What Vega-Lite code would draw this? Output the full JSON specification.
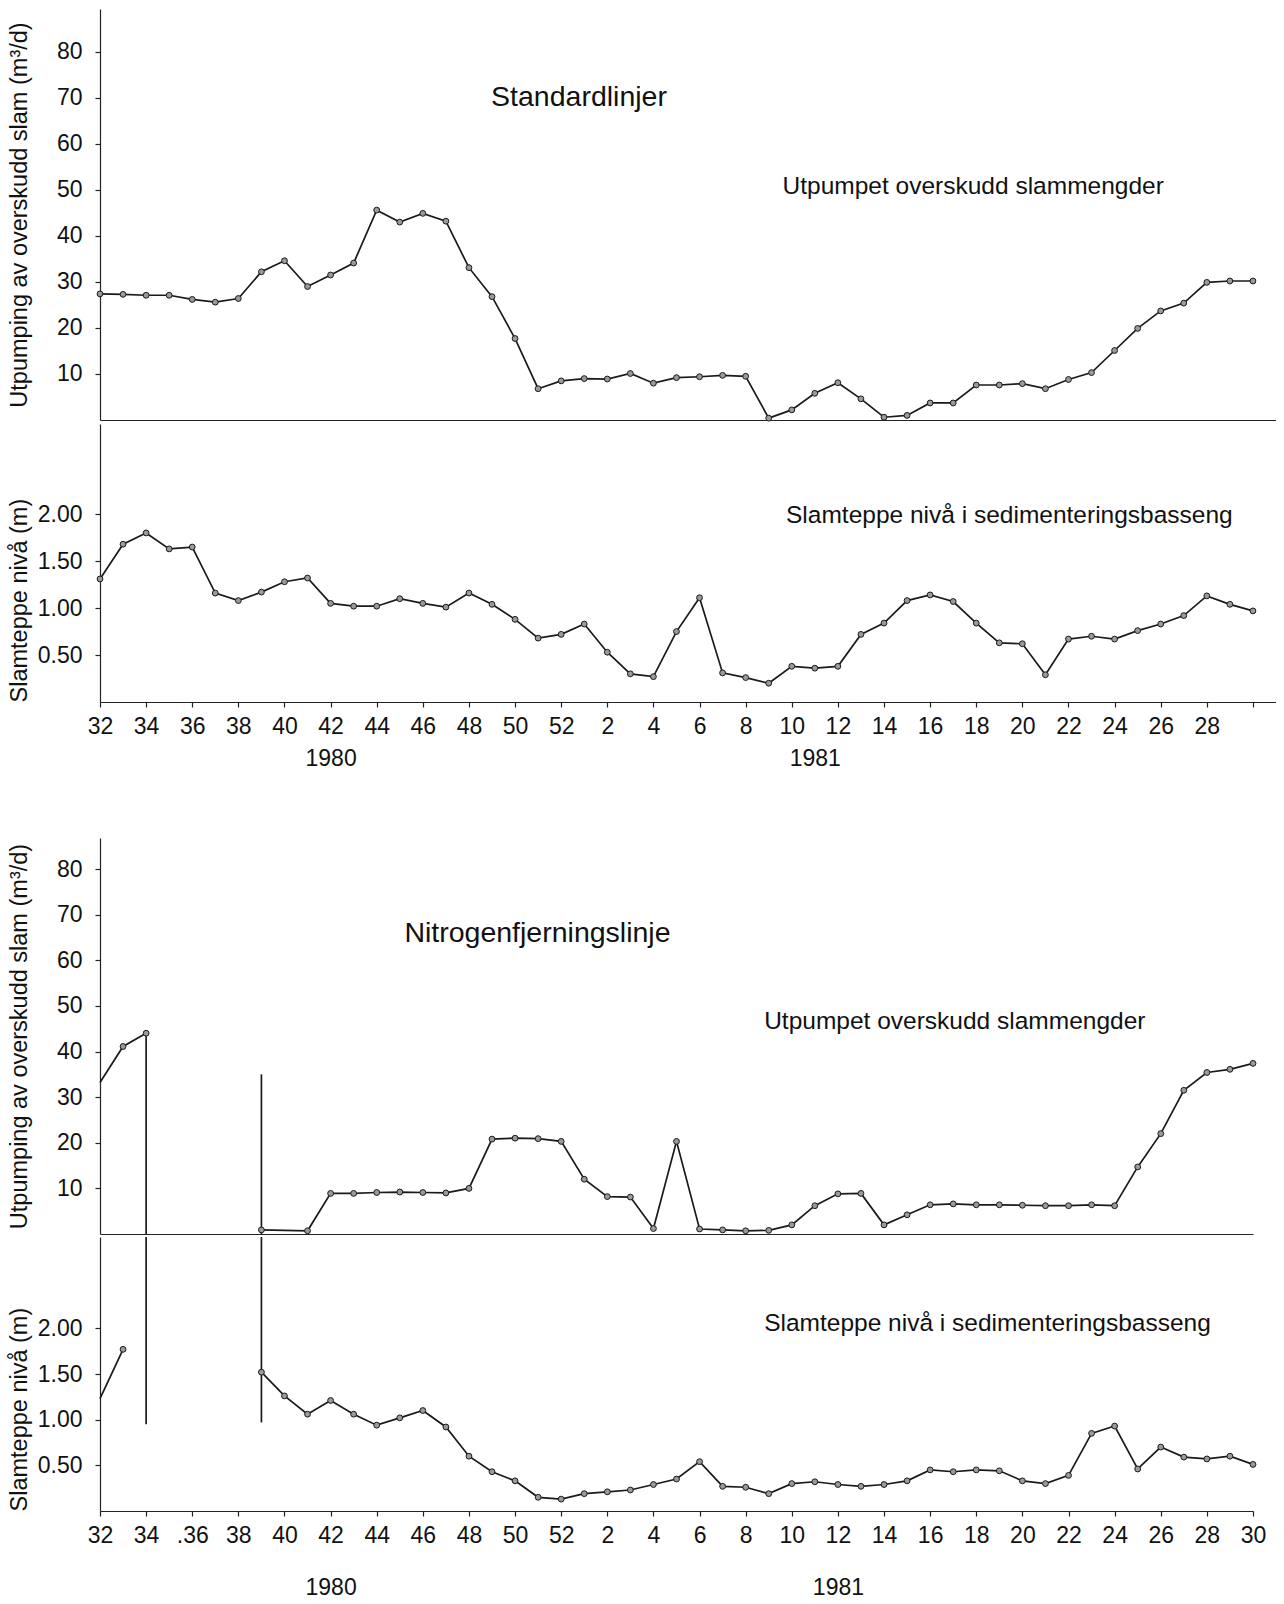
{
  "$schema": "https://vega.github.io/schema/vega-lite/v6.json",
  "background": "white",
  "padding": {"top": 9, "left": 7, "right": 0, "bottom": 0},
  "config": {
    "view": {"stroke": null},
    "font": "Liberation Sans",
    "axis": {
      "domainColor": "#222", "tickColor": "#222", "labelColor": "#111", "titleColor": "#111",
      "labelFont": "Liberation Sans", "titleFont": "Liberation Sans",
      "labelFontSize": 23, "titleFontSize": 23.5, "titleFontWeight": "normal",
      "grid": false, "tickSize": 5, "domainWidth": 1.2, "tickWidth": 1.2, "labelPadding": 13
    }
  },
  "datasets": {
    "top": [
      {"idx":0,"slam":27.4,"niva":1.31},{"idx":1,"slam":27.3,"niva":1.68},{"idx":2,"slam":27.1,"niva":1.80},
      {"idx":3,"slam":27.1,"niva":1.63},{"idx":4,"slam":26.2,"niva":1.65},{"idx":5,"slam":25.6,"niva":1.16},
      {"idx":6,"slam":26.4,"niva":1.08},{"idx":7,"slam":32.2,"niva":1.17},{"idx":8,"slam":34.6,"niva":1.28},
      {"idx":9,"slam":29.0,"niva":1.32},{"idx":10,"slam":31.5,"niva":1.05},{"idx":11,"slam":34.1,"niva":1.02},
      {"idx":12,"slam":45.6,"niva":1.02},{"idx":13,"slam":43.0,"niva":1.10},{"idx":14,"slam":44.9,"niva":1.05},
      {"idx":15,"slam":43.2,"niva":1.01},{"idx":16,"slam":33.1,"niva":1.16},{"idx":17,"slam":26.8,"niva":1.04},
      {"idx":18,"slam":17.7,"niva":0.88},{"idx":19,"slam":6.8,"niva":0.68},{"idx":20,"slam":8.5,"niva":0.72},
      {"idx":21,"slam":9.0,"niva":0.83},{"idx":22,"slam":8.9,"niva":0.53},{"idx":23,"slam":10.1,"niva":0.30},
      {"idx":24,"slam":8.0,"niva":0.27},{"idx":25,"slam":9.2,"niva":0.75},{"idx":26,"slam":9.4,"niva":1.11},
      {"idx":27,"slam":9.7,"niva":0.31},{"idx":28,"slam":9.5,"niva":0.26},{"idx":29,"slam":0.4,"niva":0.20},
      {"idx":30,"slam":2.2,"niva":0.38},{"idx":31,"slam":5.8,"niva":0.36},{"idx":32,"slam":8.1,"niva":0.38},
      {"idx":33,"slam":4.6,"niva":0.72},{"idx":34,"slam":0.6,"niva":0.84},{"idx":35,"slam":1.0,"niva":1.08},
      {"idx":36,"slam":3.7,"niva":1.14},{"idx":37,"slam":3.7,"niva":1.07},{"idx":38,"slam":7.6,"niva":0.84},
      {"idx":39,"slam":7.6,"niva":0.63},{"idx":40,"slam":7.9,"niva":0.62},{"idx":41,"slam":6.8,"niva":0.29},
      {"idx":42,"slam":8.8,"niva":0.67},{"idx":43,"slam":10.3,"niva":0.70},{"idx":44,"slam":15.1,"niva":0.67},
      {"idx":45,"slam":19.9,"niva":0.76},{"idx":46,"slam":23.7,"niva":0.83},{"idx":47,"slam":25.4,"niva":0.92},
      {"idx":48,"slam":29.9,"niva":1.13},{"idx":49,"slam":30.2,"niva":1.04},{"idx":50,"slam":30.2,"niva":0.97}
    ],
    "botUp": [
      {"idx":0,"slam":33.2,"seg":"a"},{"idx":1,"slam":41.1,"seg":"a"},{"idx":2,"slam":44.0,"seg":"a"},
      {"idx":7,"slam":0.9,"seg":"b"},{"idx":9,"slam":0.7,"seg":"b"},{"idx":10,"slam":8.9,"seg":"b"},
      {"idx":11,"slam":8.9,"seg":"b"},{"idx":12,"slam":9.1,"seg":"b"},{"idx":13,"slam":9.2,"seg":"b"},
      {"idx":14,"slam":9.1,"seg":"b"},{"idx":15,"slam":9.0,"seg":"b"},{"idx":16,"slam":10.0,"seg":"b"},
      {"idx":17,"slam":20.8,"seg":"b"},{"idx":18,"slam":21.0,"seg":"b"},{"idx":19,"slam":20.9,"seg":"b"},
      {"idx":20,"slam":20.3,"seg":"b"},{"idx":21,"slam":12.0,"seg":"b"},{"idx":22,"slam":8.2,"seg":"b"},
      {"idx":23,"slam":8.1,"seg":"b"},{"idx":24,"slam":1.2,"seg":"b"},{"idx":25,"slam":20.3,"seg":"b"},
      {"idx":26,"slam":1.1,"seg":"b"},{"idx":27,"slam":0.9,"seg":"b"},{"idx":28,"slam":0.7,"seg":"b"},
      {"idx":29,"slam":0.8,"seg":"b"},{"idx":30,"slam":2.0,"seg":"b"},{"idx":31,"slam":6.2,"seg":"b"},
      {"idx":32,"slam":8.8,"seg":"b"},{"idx":33,"slam":8.9,"seg":"b"},{"idx":34,"slam":2.0,"seg":"b"},
      {"idx":35,"slam":4.2,"seg":"b"},{"idx":36,"slam":6.4,"seg":"b"},{"idx":37,"slam":6.6,"seg":"b"},
      {"idx":38,"slam":6.4,"seg":"b"},{"idx":39,"slam":6.4,"seg":"b"},{"idx":40,"slam":6.3,"seg":"b"},
      {"idx":41,"slam":6.2,"seg":"b"},{"idx":42,"slam":6.2,"seg":"b"},{"idx":43,"slam":6.4,"seg":"b"},
      {"idx":44,"slam":6.2,"seg":"b"},{"idx":45,"slam":14.7,"seg":"b"},{"idx":46,"slam":22.0,"seg":"b"},
      {"idx":47,"slam":31.5,"seg":"b"},{"idx":48,"slam":35.4,"seg":"b"},{"idx":49,"slam":36.1,"seg":"b"},
      {"idx":50,"slam":37.4,"seg":"b"}
    ],
    "botLow": [
      {"idx":0,"niva":1.23,"seg":"a"},{"idx":1,"niva":1.77,"seg":"a"},
      {"idx":7,"niva":1.52,"seg":"b"},{"idx":8,"niva":1.26,"seg":"b"},{"idx":9,"niva":1.06,"seg":"b"},
      {"idx":10,"niva":1.21,"seg":"b"},{"idx":11,"niva":1.06,"seg":"b"},{"idx":12,"niva":0.94,"seg":"b"},
      {"idx":13,"niva":1.02,"seg":"b"},{"idx":14,"niva":1.10,"seg":"b"},{"idx":15,"niva":0.92,"seg":"b"},
      {"idx":16,"niva":0.60,"seg":"b"},{"idx":17,"niva":0.43,"seg":"b"},{"idx":18,"niva":0.33,"seg":"b"},
      {"idx":19,"niva":0.15,"seg":"b"},{"idx":20,"niva":0.13,"seg":"b"},{"idx":21,"niva":0.19,"seg":"b"},
      {"idx":22,"niva":0.21,"seg":"b"},{"idx":23,"niva":0.23,"seg":"b"},{"idx":24,"niva":0.29,"seg":"b"},
      {"idx":25,"niva":0.35,"seg":"b"},{"idx":26,"niva":0.54,"seg":"b"},{"idx":27,"niva":0.27,"seg":"b"},
      {"idx":28,"niva":0.26,"seg":"b"},{"idx":29,"niva":0.19,"seg":"b"},{"idx":30,"niva":0.30,"seg":"b"},
      {"idx":31,"niva":0.32,"seg":"b"},{"idx":32,"niva":0.29,"seg":"b"},{"idx":33,"niva":0.27,"seg":"b"},
      {"idx":34,"niva":0.29,"seg":"b"},{"idx":35,"niva":0.33,"seg":"b"},{"idx":36,"niva":0.45,"seg":"b"},
      {"idx":37,"niva":0.43,"seg":"b"},{"idx":38,"niva":0.45,"seg":"b"},{"idx":39,"niva":0.44,"seg":"b"},
      {"idx":40,"niva":0.33,"seg":"b"},{"idx":41,"niva":0.30,"seg":"b"},{"idx":42,"niva":0.39,"seg":"b"},
      {"idx":43,"niva":0.85,"seg":"b"},{"idx":44,"niva":0.93,"seg":"b"},{"idx":45,"niva":0.46,"seg":"b"},
      {"idx":46,"niva":0.70,"seg":"b"},{"idx":47,"niva":0.59,"seg":"b"},{"idx":48,"niva":0.57,"seg":"b"},
      {"idx":49,"niva":0.60,"seg":"b"},{"idx":50,"niva":0.51,"seg":"b"}
    ],
    "ruleUp": [
      {"idx":2,"slam":44.0,"bot":0},{"idx":7,"slam":35.0,"bot":0}
    ],
    "ruleLow": [
      {"idx":2,"niva":3.0,"bot":0.95},{"idx":7,"niva":3.0,"bot":0.97}
    ]
  },
  "vconcat": [
    {
      "spacing": 0,
      "vconcat": [
        {
          "width": 1176, "height": 411,
          "encoding": {
            "x": {"field": "idx", "type": "quantitative", "scale": {"domain": [0, 51], "nice": false, "zero": false},
                  "axis": {"labels": false, "ticks": false, "title": null, "domain": true}},
            "y": {"field": "slam", "type": "quantitative", "scale": {"domain": [0, 89.3], "nice": false},
                  "axis": {"values": [10,20,30,40,50,60,70,80], "title": "Utpumping av overskudd slam  (m³/d)", "titlePadding": 25}}
          },
          "layer": [
            {
              "data": {"name": "top"},
              "mark": {"type": "line", "color": "#1a1a1a", "strokeWidth": 1.7}
            },
            {
              "data": {"name": "top"},
              "mark": {"type": "point", "shape": "circle", "filled": true, "fill": "#9a9a9a", "stroke": "#1a1a1a", "strokeWidth": 1, "size": 34, "opacity": 1}
            },
            {
              "data": {"values": [{"idx": 16.96, "slam": 70.2, "t": "Standardlinjer"}]},
              "mark": {"type": "text", "align": "left", "baseline": "middle", "fontSize": 28.5, "font": "Liberation Sans", "color": "#111"},
              "encoding": {"text": {"field": "t"}}
            },
            {
              "data": {"values": [{"idx": 29.6, "slam": 50.7, "t": "Utpumpet  overskudd  slammengder"}]},
              "mark": {"type": "text", "align": "left", "baseline": "middle", "fontSize": 24.5, "font": "Liberation Sans", "color": "#111"},
              "encoding": {"text": {"field": "t"}}
            }
          ]
        },
        {
          "width": 1176, "height": 278,
          "encoding": {
            "x": {"field": "idx", "type": "quantitative", "scale": {"domain": [0, 51], "nice": false, "zero": false},
                  "axis": {"values": [0,2,4,6,8,10,12,14,16,18,20,22,24,26,28,30,31,32,34,36,38,40,42,44,46,48,50],
                           "labelExpr": "datum.value == 10 ? ['42', '1980'] : datum.value == 31 ? ['', '1981'] : datum.value == 50 ? '' : (datum.value <= 20 ? datum.value + 32 : datum.value - 20) + ''",
                           "title": null, "labelOverlap": false, "labelBound": false, "labelFlush": false, "labelLineHeight": 32, "labelPadding": 8,
                           "tickOpacity": {"condition": {"test": "datum.value == 31", "value": 0}, "value": 1}}},
            "y": {"field": "niva", "type": "quantitative", "scale": {"domain": [0, 2.96], "nice": false},
                  "axis": {"values": [0.5, 1, 1.5, 2], "format": ".2f", "title": "Slamteppe nivå  (m)", "titlePadding": 6, "titleAnchor": "start"}}
          },
          "layer": [
            {
              "data": {"name": "top"},
              "mark": {"type": "line", "color": "#1a1a1a", "strokeWidth": 1.7}
            },
            {
              "data": {"name": "top"},
              "mark": {"type": "point", "shape": "circle", "filled": true, "fill": "#9a9a9a", "stroke": "#1a1a1a", "strokeWidth": 1, "size": 34, "opacity": 1}
            },
            {
              "data": {"values": [{"idx": 29.75, "niva": 1.98, "t": "Slamteppe  nivå  i  sedimenteringsbasseng"}]},
              "mark": {"type": "text", "align": "left", "baseline": "middle", "fontSize": 24.5, "font": "Liberation Sans", "color": "#111"},
              "encoding": {"text": {"field": "t"}}
            }
          ]
        }
      ]
    },
    {
      "spacing": 0,
      "vconcat": [
        {
          "width": 1153, "height": 396,
          "encoding": {
            "x": {"field": "idx", "type": "quantitative", "scale": {"domain": [0, 50], "nice": false, "zero": false},
                  "axis": {"labels": false, "ticks": false, "title": null, "domain": true}},
            "y": {"field": "slam", "type": "quantitative", "scale": {"domain": [0, 86.8], "nice": false},
                  "axis": {"values": [10,20,30,40,50,60,70,80], "title": "Utpumping av overskudd slam  (m³/d)", "titlePadding": 25}}
          },
          "layer": [
            {
              "data": {"name": "ruleUp"},
              "mark": {"type": "rule", "color": "#1a1a1a", "strokeWidth": 1.7},
              "encoding": {"y2": {"field": "bot"}}
            },
            {
              "data": {"name": "botUp"},
              "mark": {"type": "line", "color": "#1a1a1a", "strokeWidth": 1.7},
              "encoding": {"detail": {"field": "seg"}}
            },
            {
              "data": {"name": "botUp"},
              "transform": [{"filter": "datum.idx > 0"}],
              "mark": {"type": "point", "shape": "circle", "filled": true, "fill": "#9a9a9a", "stroke": "#1a1a1a", "strokeWidth": 1, "size": 34, "opacity": 1}
            },
            {
              "data": {"values": [{"idx": 13.2, "slam": 66.0, "t": "Nitrogenfjerningslinje"}]},
              "mark": {"type": "text", "align": "left", "baseline": "middle", "fontSize": 28.5, "font": "Liberation Sans", "color": "#111"},
              "encoding": {"text": {"field": "t"}}
            },
            {
              "data": {"values": [{"idx": 28.8, "slam": 46.5, "t": "Utpumpet  overskudd  slammengder"}]},
              "mark": {"type": "text", "align": "left", "baseline": "middle", "fontSize": 24.5, "font": "Liberation Sans", "color": "#111"},
              "encoding": {"text": {"field": "t"}}
            }
          ]
        },
        {
          "width": 1153, "height": 274,
          "encoding": {
            "x": {"field": "idx", "type": "quantitative", "scale": {"domain": [0, 50], "nice": false, "zero": false},
                  "axis": {"values": [0,2,4,6,8,10,12,14,16,18,20,22,24,26,28,30,32,34,36,38,40,42,44,46,48,50],
                           "labelExpr": "datum.value == 4 ? '.36' : datum.value == 10 ? ['42', '1980'] : datum.value == 32 ? ['12', '1981'] : (datum.value <= 20 ? datum.value + 32 : datum.value - 20) + ''",
                           "title": null, "labelOverlap": false, "labelBound": false, "labelFlush": false, "labelLineHeight": 52, "labelPadding": 8}},
            "y": {"field": "niva", "type": "quantitative", "scale": {"domain": [0, 3.0], "nice": false},
                  "axis": {"values": [0.5, 1, 1.5, 2], "format": ".2f", "title": "Slamteppe nivå  (m)", "titlePadding": 6, "titleAnchor": "start"}}
          },
          "layer": [
            {
              "data": {"name": "ruleLow"},
              "mark": {"type": "rule", "color": "#1a1a1a", "strokeWidth": 1.7},
              "encoding": {"y2": {"field": "bot"}}
            },
            {
              "data": {"name": "botLow"},
              "mark": {"type": "line", "color": "#1a1a1a", "strokeWidth": 1.7},
              "encoding": {"detail": {"field": "seg"}}
            },
            {
              "data": {"name": "botLow"},
              "transform": [{"filter": "datum.idx > 0"}],
              "mark": {"type": "point", "shape": "circle", "filled": true, "fill": "#9a9a9a", "stroke": "#1a1a1a", "strokeWidth": 1, "size": 34, "opacity": 1}
            },
            {
              "data": {"values": [{"idx": 28.8, "niva": 2.05, "t": "Slamteppe  nivå  i  sedimenteringsbasseng"}]},
              "mark": {"type": "text", "align": "left", "baseline": "middle", "fontSize": 24.5, "font": "Liberation Sans", "color": "#111"},
              "encoding": {"text": {"field": "t"}}
            }
          ]
        }
      ]
    }
  ],
  "spacing": 68
}
